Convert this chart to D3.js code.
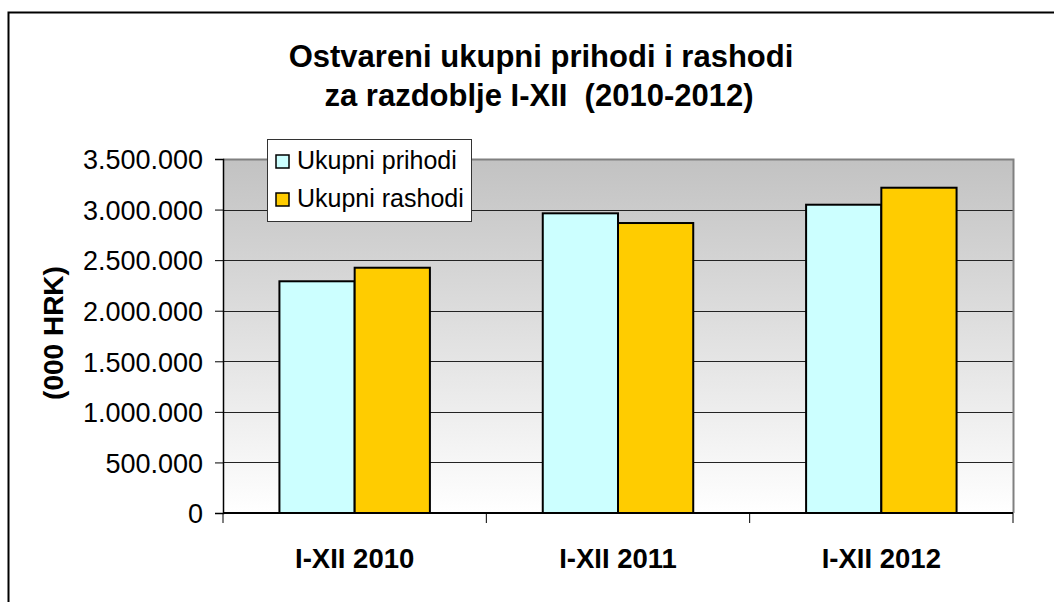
<!DOCTYPE html>
<html>
<head>
<meta charset="utf-8">
<script src="https://cdn.jsdelivr.net/npm/d3@7"></script>
<style>
  body { margin: 0; background: #fff; }
  svg { display: block; font-family: "Liberation Sans", Arial, sans-serif; }
</style>
</head>
<body>
<svg></svg>
<script>
var categories = ['I-XII 2010', 'I-XII 2011', 'I-XII 2012'];
var seriesNames = ['Ukupni prihodi', 'Ukupni rashodi'];
var prihodi = [2291000, 2963000, 3048000];
var rashodi = [2425000, 2867000, 3216000];
var yTicks = [0, 500000, 1000000, 1500000, 2000000, 2500000, 3000000, 3500000];
var colors = ['#ccffff', '#ffcc00'];

var W = 1054, H = 602;
var margin = { top: 159, right: 41, bottom: 89, left: 223 };
var width = W - margin.left - margin.right;
var height = H - margin.top - margin.bottom;

var svg = d3.select('svg').attr('width', W).attr('height', H);

// outer frame
svg.append('rect')
  .attr('x', 8.5).attr('y', 12.5)
  .attr('width', 1060).attr('height', 620)
  .attr('fill', 'none').attr('stroke', '#000').attr('stroke-width', 2);

var defs = svg.append('defs');
var grad = defs.append('linearGradient')
  .attr('id', 'bg').attr('x1', 0).attr('y1', 0).attr('x2', 0).attr('y2', 1);
grad.append('stop').attr('offset', '0%').attr('stop-color', '#c2c2c2');
grad.append('stop').attr('offset', '100%').attr('stop-color', '#ffffff');

var g = svg.append('g')
  .attr('transform', 'translate(' + margin.left + ',' + margin.top + ')');

var x0 = d3.scaleBand().domain(categories).range([0, width]).paddingInner(0).paddingOuter(0);
var x1 = d3.scaleBand().domain(seriesNames).range([0, 2 * x0.bandwidth() / 3.5]);
var y = d3.scaleLinear().domain([0, 3500000]).range([height, 0]);

g.append('rect')
  .attr('width', width).attr('height', height)
  .attr('fill', 'url(#bg)');

// gridlines
g.selectAll('.grid')
  .data(yTicks.filter(function(d) { return d > 0 && d < 3500000; }))
  .enter().append('line')
  .attr('class', 'grid')
  .attr('x1', 0).attr('x2', width)
  .attr('y1', function(d) { return Math.round(y(d)) + 0.5; })
  .attr('y2', function(d) { return Math.round(y(d)) + 0.5; })
  .attr('stroke', '#222').attr('stroke-width', 1);

// top and right border
g.append('path')
  .attr('d', 'M0,0.5H' + (width + 0.5) + 'V' + height)
  .attr('fill', 'none').attr('stroke', '#808080').attr('stroke-width', 2);

var rows = categories.map(function(c, i) {
  return { cat: c, values: [prihodi[i], rashodi[i]] };
});

var groups = g.selectAll('.grp')
  .data(rows)
  .enter().append('g')
  .attr('class', 'grp')
  .attr('transform', function(d) {
    return 'translate(' + (x0(d.cat) + x0.bandwidth() * 0.75 / 3.5) + ',0)';
  });

groups.selectAll('rect')
  .data(function(d) {
    return d.values.map(function(v, j) { return { name: seriesNames[j], value: v, i: j }; });
  })
  .enter().append('rect')
  .attr('x', function(d) { return x1(d.name); })
  .attr('width', x1.bandwidth())
  .attr('y', function(d) { return y(d.value); })
  .attr('height', function(d) { return height - y(d.value); })
  .attr('fill', function(d) { return colors[d.i]; })
  .attr('stroke', '#000').attr('stroke-width', 2);

// y axis
var yAxis = d3.axisLeft(y)
  .tickValues(yTicks)
  .tickSize(8)
  .tickPadding(12)
  .tickFormat(function(d) { return d3.format(',')(d).replace(/,/g, '.'); });

var ya = g.append('g').attr('class', 'axis').call(yAxis);
ya.attr('font-size', null).attr('font-family', null);
ya.select('.domain').attr('stroke', '#000').attr('stroke-width', 1.5);
ya.selectAll('text').attr('fill', '#000').attr('dy', '0.36em')
  .style('font-size', '27px')
  .style('font-family', '"Liberation Sans", Arial, sans-serif');

// x axis
var xa = g.append('g').attr('transform', 'translate(0,' + height + ')');
xa.append('line').attr('x1', 0).attr('x2', width).attr('y1', 0).attr('y2', 0)
  .attr('stroke', '#000').attr('stroke-width', 2);
xa.selectAll('.xt')
  .data(categories.concat(['end']))
  .enter().append('line')
  .attr('x1', function(d, i) { return i * x0.bandwidth(); })
  .attr('x2', function(d, i) { return i * x0.bandwidth(); })
  .attr('y1', 0).attr('y2', 10)
  .attr('stroke', '#000').attr('stroke-width', 1);
xa.selectAll('.xl')
  .data(categories)
  .enter().append('text')
  .attr('x', function(d) { return x0(d) + x0.bandwidth() / 2; })
  .attr('y', 55)
  .attr('text-anchor', 'middle')
  .style('font-size', '27.5px').attr('font-weight', 'bold')
  .text(function(d) { return d; });

// y axis title
svg.append('text')
  .attr('transform', 'translate(63,333) rotate(-90)')
  .attr('text-anchor', 'middle')
  .style('font-size', '28px').attr('font-weight', 'bold')
  .text('(000 HRK)');

// title
var title = svg.append('text')
  .attr('text-anchor', 'middle')
  .style('font-size', '31px').attr('font-weight', 'bold');
title.append('tspan').attr('x', 541).attr('y', 67).text('Ostvareni ukupni prihodi i rashodi');
title.append('tspan').attr('x', 539).attr('y', 106).text('za razdoblje I-XII  (2010-2012)')
  .style('white-space', 'pre');

// legend
var legend = svg.append('g').attr('transform', 'translate(267,139)');
legend.append('rect')
  .attr('x', 0.5).attr('y', 0.5).attr('width', 204).attr('height', 82)
  .attr('fill', '#fff').attr('stroke', '#333').attr('stroke-width', 1);
var li = legend.selectAll('.li')
  .data(seriesNames)
  .enter().append('g')
  .attr('transform', function(d, i) { return 'translate(9,' + (16 + i * 38) + ')'; });
li.append('rect')
  .attr('width', 13).attr('height', 13)
  .attr('fill', function(d, i) { return colors[i]; })
  .attr('stroke', '#000').attr('stroke-width', 1.5);
li.append('text')
  .attr('x', 21).attr('y', 14)
  .style('font-size', '25px')
  .text(function(d) { return d; });
</script>
</body>
</html>
